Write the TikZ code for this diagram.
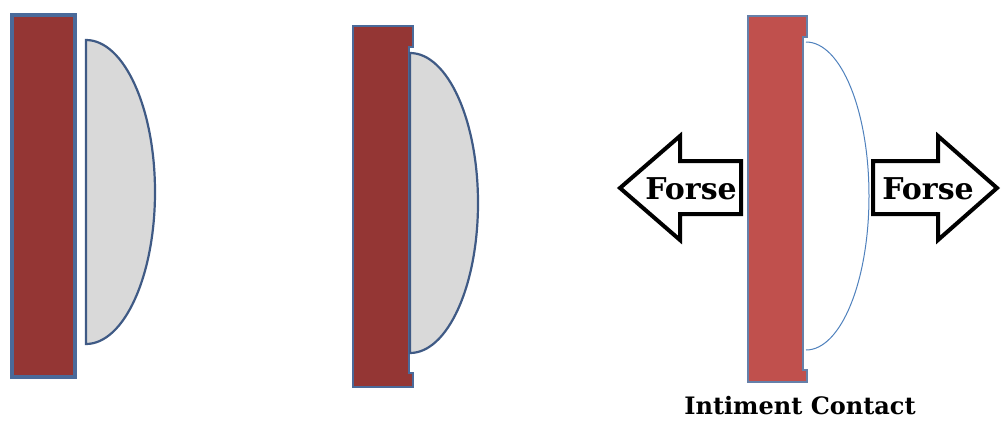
\documentclass[tikz,border=0pt]{standalone}
\usepackage{fontspec}
\setmainfont{DejaVu Serif}
\definecolor{darkred}{HTML}{943634}
\definecolor{midred}{HTML}{C0504D}
\definecolor{edgeblue}{HTML}{4A6A9A}
\definecolor{lensedge}{HTML}{3F5A85}
\definecolor{lensgray}{HTML}{D9D9D9}
\definecolor{thinblue}{HTML}{4F81BD}
\tikzset{
  slabone/.style={fill=darkred, draw=edgeblue, line width=4pt},
  slabtwo/.style={fill=darkred, draw=edgeblue, line width=2.2pt},
  slabthree/.style={fill=midred, draw=edgeblue!85, line width=2.5pt},
  graylens/.style={fill=lensgray, draw=lensedge, line width=2.2pt},
  whitelens/.style={fill=white, draw=thinblue, line width=1pt},
  fatarrow/.style={fill=white, draw=black, line width=4pt, line join=miter},
  forcetext/.style={font=\bfseries\fontsize{30}{34}\selectfont, inner sep=0pt},
  captiontext/.style={font=\bfseries\fontsize{24}{28}\selectfont, inner sep=0pt}
}
\begin{document}
\begin{tikzpicture}[x=1pt,y=-1pt]
\useasboundingbox (0,0) rectangle (1002,421);
% panel 1
\draw[slabone] (12,15) rectangle (75,377);
\draw[graylens] (86,40) .. controls (124,40) and (155,108) .. (155,192)
  .. controls (155,276) and (124,344) .. (86,344) -- cycle;
% panel 2
\draw[slabtwo] (353,26) -- (413,26) -- (413,47) -- (409,47) -- (409,373)
  -- (413,373) -- (413,387) -- (353,387) -- cycle;
\draw[graylens] (410,53) .. controls (447.5,53) and (478,120) .. (478,203)
  .. controls (478,286) and (447.5,353) .. (410,353) -- cycle;
% panel 3
\draw[slabthree] (748,16) -- (807,16) -- (807,37) -- (803,37) -- (803,370)
  -- (807,370) -- (807,382) -- (748,382) -- cycle;
\draw[whitelens] (806,42) .. controls (841,42) and (869,111) .. (869,196)
  .. controls (869,281) and (841,350) .. (806,350);
% arrows
\draw[fatarrow] (620,188) -- (680,136) -- (680,161) -- (741,161) -- (741,214)
  -- (680,214) -- (680,240) -- cycle;
\node[forcetext] (lf) at (691,189) {Forse};
\draw[fatarrow] (873,161) -- (938,161) -- (938,136) -- (997,188) -- (938,240)
  -- (938,214) -- (873,214) -- cycle;
\node[forcetext] (rf) at (928,189) {Forse};
\node[captiontext] (cap) at (800,406) {Intiment Contact};
\end{tikzpicture}
\end{document}
